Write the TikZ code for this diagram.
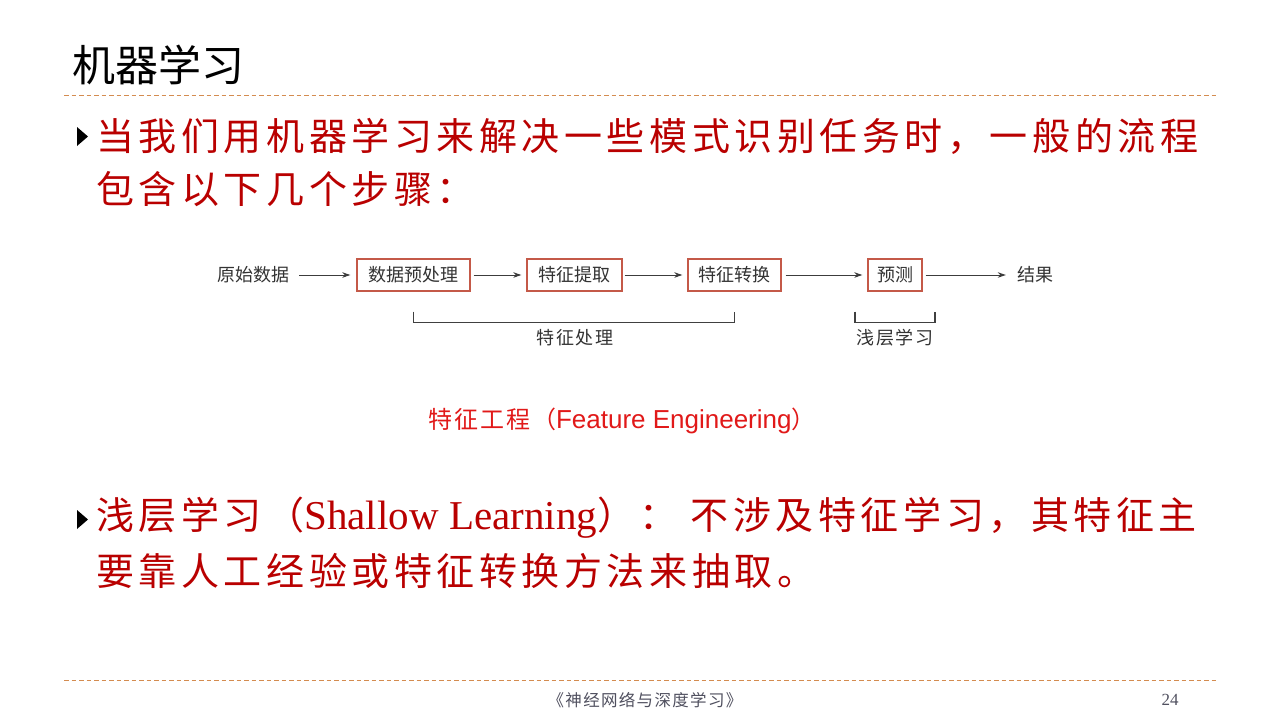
\documentclass[tikz,border=0pt]{standalone}
\usepackage{xcolor}
\usepackage{fontspec}
\usepackage{tikz}
\usetikzlibrary{arrows.meta}
\setmainfont{Liberation Serif}
\newfontfamily\cjk{Noto Sans CJK SC}
\newfontfamily\cjkwide[LetterSpace=12]{Noto Sans CJK SC}
\newfontfamily\cjkmid[LetterSpace=8]{Noto Sans CJK SC}
\newfontfamily\arialfont{Liberation Sans}
\definecolor{bulletred}{RGB}{185,0,0}
\definecolor{fered}{RGB}{225,25,25}
\definecolor{rulecol}{RGB}{212,140,80}
\definecolor{boxred}{RGB}{196,89,72}
\definecolor{arrowgray}{RGB}{60,60,60}
\definecolor{footgray}{RGB}{80,80,95}

\begin{document}
\begin{tikzpicture}[x=1pt,y=-1pt,
    stepbox/.style={draw=boxred,line width=1.4pt,minimum height=32pt,inner xsep=4pt,font=\cjk\fontsize{18}{20}\selectfont,text=black!80},
    plain/.style={inner sep=0pt,font=\cjk\fontsize{18}{20}\selectfont,text=black!80},
    flow/.style={draw=arrowgray,line width=1pt,-{Stealth[length=8pt,width=5.5pt]}},
    brace/.style={draw=black!75,line width=1.3pt},
    rule/.style={draw=rulecol,line width=1pt,dash pattern=on 4.5pt off 3pt},
    bullet/.style={fill=black},
    line/.style={anchor=west,inner sep=0pt,text=bulletred,font=\cjkwide\fontsize{38}{46}\selectfont}]
    \useasboundingbox[fill=white] (0,0) rectangle (1280,720);
    % title and rules
    \node[anchor=west,inner sep=0pt,font=\cjk\fontsize{43}{48}\selectfont] (title) at (72,65) {机器学习};
    \coordinate (r1a) at (64,95);
    \coordinate (r1b) at (1216,95);
    \coordinate (r2a) at (64,680);
    \coordinate (r2b) at (1216,680);
    \draw[rule] (r1a) -- (r1b);
    \draw[rule] (r2a) -- (r2b);
    % first bullet
    \fill[bullet] (77,127) -- (88,136.5) -- (77,146) -- cycle;
    \node[line] (b1a) at (96,136) {当我们用机器学习来解决一些模式识别任务时，一般的流程};
    \node[line] (b1b) at (96,189) {包含以下几个步骤：};
    % flow
    \node[plain] (raw) at (253,275) {原始数据};
    \node[stepbox,minimum width=113pt] (pre) at (413.5,275) {数据预处理};
    \node[stepbox,minimum width=95pt] (ext) at (574.5,275) {特征提取};
    \node[stepbox,minimum width=93pt] (trans) at (734.5,275) {特征转换};
    \node[stepbox,minimum width=54pt] (pred) at (895,275) {预测};
    \node[plain] (res) at (1035,275) {结果};
    \draw[flow] ([xshift=10pt]raw.east) -- ([xshift=-6pt]pre.west);
    \draw[flow] ([xshift=3pt]pre.east) -- ([xshift=-5pt]ext.west);
    \draw[flow] ([xshift=2pt]ext.east) -- ([xshift=-5pt]trans.west);
    \draw[flow] ([xshift=4pt]trans.east) -- ([xshift=-5pt]pred.west);
    \draw[flow] ([xshift=3pt]pred.east) -- ([xshift=-11pt]res.west);
    % brackets
    \draw[brace] ([yshift=-20pt]pre.south) -- ([yshift=-31pt]pre.south) -- ([yshift=-31pt]trans.south) -- ([yshift=-20pt]trans.south);
    \draw[brace] ([xshift=-40pt,yshift=-20pt]pred.south) -- ([xshift=-40pt,yshift=-31pt]pred.south) -- ([xshift=40pt,yshift=-31pt]pred.south) -- ([xshift=40pt,yshift=-20pt]pred.south);
    \node[plain,font=\cjkmid\fontsize{18}{20}\selectfont] (fp) at (575,338) {特征处理};
    \node[plain,font=\cjkmid\fontsize{18}{20}\selectfont] (sl) at (895,338) {浅层学习};
    % feature engineering
    \node[inner sep=0pt,text=fered] (fe) at (622,421) {\cjkmid\fontsize{24}{28}\selectfont 特征工程（\arialfont\fontsize{26}{28}\selectfont Feature Engineering\cjk\fontsize{24}{28}\selectfont ）};
    % second bullet
    \fill[bullet] (77,510) -- (88,519.5) -- (77,529) -- cycle;
    \node[line] (b2a) at (96,518) {浅层学习（{\rmfamily\fontsize{41}{46}\selectfont Shallow Learning}）：\ 不涉及特征学习，其特征主};
    \node[line] (b2b) at (96,571) {要靠人工经验或特征转换方法来抽取。};
    % footer
    \node[inner sep=0pt,text=footgray,font=\cjkmid\fontsize{16.5}{18}\selectfont] (book) at (645,700) {《神经网络与深度学习》};
    \node[inner sep=0pt,text=footgray,font=\rmfamily\fontsize{17}{18}\selectfont] (page) at (1170,700) {24};
\end{tikzpicture}
\end{document}
